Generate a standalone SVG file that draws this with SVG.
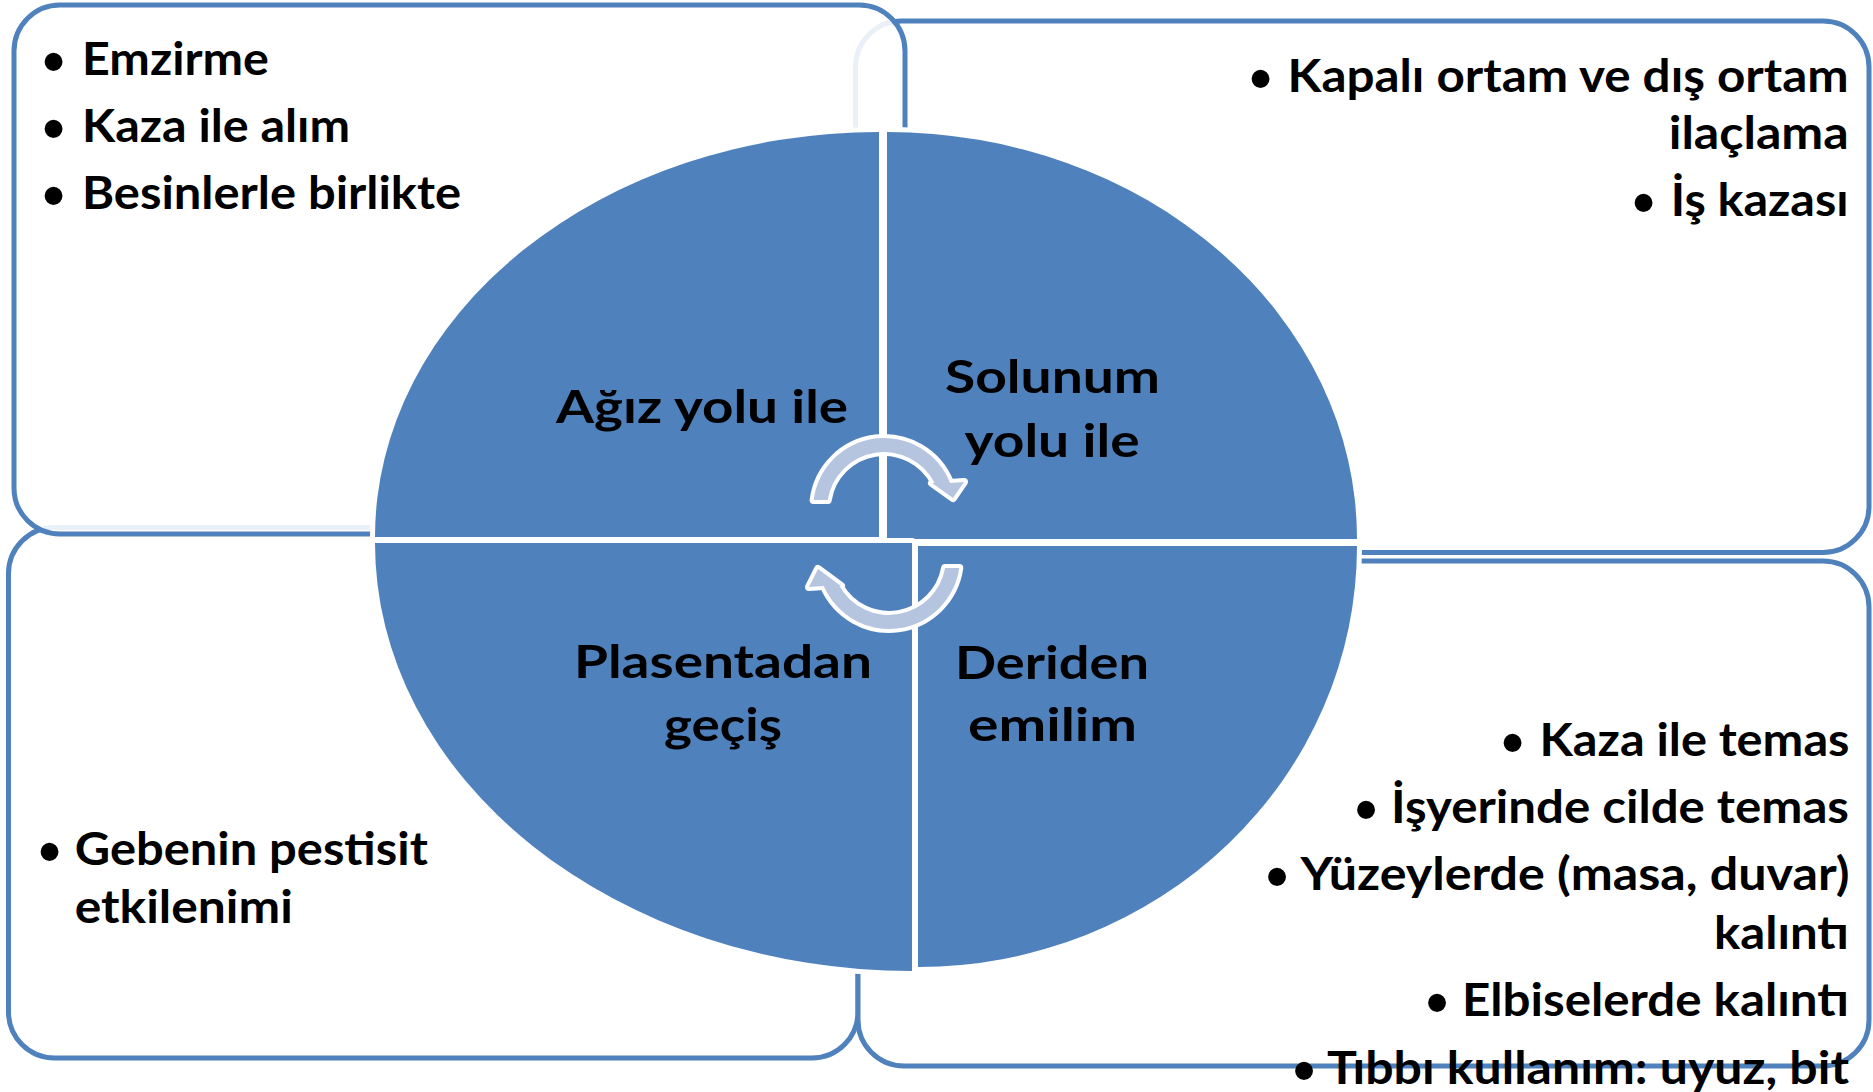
<svg xmlns="http://www.w3.org/2000/svg" width="1873" height="1092" viewBox="0 0 1873 1092">
<style>
.box{fill:#fff;stroke:#4F81BD;stroke-width:5}
.tl{fill-opacity:0.88}
.sec{fill:#4F81BD;stroke:#fff;stroke-width:10;paint-order:stroke;stroke-linejoin:round}
.arr{fill:#B5C4DF;stroke:#fff;stroke-width:8;paint-order:stroke;stroke-linejoin:round}
.t{font-family:Lato,"Open Sans",sans-serif;font-weight:700;font-size:45px;fill:#000}
.b{font-family:"Liberation Sans",sans-serif;font-size:66px;text-anchor:middle;fill:#000}
</style>
<rect width="1873" height="1092" fill="#fff"/>
<g id="box-top-right">
<rect class="box" x="855.5" y="21" width="1013.5" height="531.5" rx="46"/>
<text class="b" x="1260.5" y="100.6">•</text>
<text class="t" x="1287.6" y="92" textLength="561" lengthAdjust="spacingAndGlyphs">Kapalı ortam ve dış ortam</text>
<text class="t" x="1668.7" y="148.5" textLength="180" lengthAdjust="spacingAndGlyphs">ilaçlama</text>
<text class="b" x="1643.6" y="224.6">•</text>
<text class="t" x="1670.7" y="216" textLength="178" lengthAdjust="spacingAndGlyphs">İş kazası</text>
</g>
<g id="box-bottom-left">
<rect class="box" x="8.5" y="527.5" width="849.5" height="530.5" rx="46"/>
<text class="b" x="49.5" y="873.6">•</text>
<text class="t" x="74.8" y="865" textLength="353" lengthAdjust="spacingAndGlyphs">Gebenin pestisit</text>
<text class="t" x="74.8" y="923" textLength="218" lengthAdjust="spacingAndGlyphs">etkilenimi</text>
</g>
<g id="box-bottom-right">
<rect class="box" x="858" y="561" width="1011" height="505" rx="46"/>
<text class="b" x="1512.5" y="764.6">•</text>
<text class="t" x="1539.5" y="756" textLength="310" lengthAdjust="spacingAndGlyphs">Kaza ile temas</text>
<text class="b" x="1366" y="831.6">•</text>
<text class="t" x="1391" y="823" textLength="458" lengthAdjust="spacingAndGlyphs">İşyerinde cilde temas</text>
<text class="b" x="1277" y="898.6">•</text>
<text class="t" x="1300.5" y="890" textLength="549" lengthAdjust="spacingAndGlyphs">Yüzeylerde (masa, duvar)</text>
<text class="t" x="1714" y="949" textLength="135" lengthAdjust="spacingAndGlyphs">kalıntı</text>
<text class="b" x="1437" y="1024.6">•</text>
<text class="t" x="1462" y="1016" textLength="387" lengthAdjust="spacingAndGlyphs">Elbiselerde kalıntı</text>
<text class="b" x="1304" y="1092.6">•</text>
<text class="t" x="1327" y="1084" textLength="522" lengthAdjust="spacingAndGlyphs">Tıbbı kullanım: uyuz, bit</text>
</g>
<g id="box-top-left">
<rect class="box tl" x="14" y="5" width="891" height="529" rx="46"/>
<text class="b" x="53.5" y="83.7">•</text>
<text class="t" x="82" y="75" textLength="187" lengthAdjust="spacingAndGlyphs">Emzirme</text>
<text class="b" x="53.5" y="150.7">•</text>
<text class="t" x="82" y="142" textLength="268" lengthAdjust="spacingAndGlyphs">Kaza ile alım</text>
<text class="b" x="53.5" y="217.7">•</text>
<text class="t" x="82" y="209" textLength="379" lengthAdjust="spacingAndGlyphs">Besinlerle birlikte</text>
</g>
<g id="sector-agiz">
<path class="sec" d="M879,537 L375,537 A504,405 0 0 1 879,132 Z"/>
<text class="t" x="556" y="423" textLength="292" lengthAdjust="spacingAndGlyphs">Ağız yolu ile</text>
</g>
<g id="sector-solunum">
<path class="sec" d="M887,539 L887,132 A470,407 0 0 1 1357,539 Z"/>
<text class="t" x="945" y="393" textLength="215" lengthAdjust="spacingAndGlyphs">Solunum</text>
<text class="t" x="964.6" y="457" textLength="175" lengthAdjust="spacingAndGlyphs">yolu ile</text>
</g>
<g id="sector-plasenta">
<path class="sec" d="M912,543 L912,971 A537,428 0 0 1 375,543 Z"/>
<text class="t" x="574" y="678" textLength="298" lengthAdjust="spacingAndGlyphs">Plasentadan</text>
<text class="t" x="664" y="741" textLength="118" lengthAdjust="spacingAndGlyphs">geçiş</text>
</g>
<g id="sector-deri">
<path class="sec" d="M918,546 L1357,546 A439,421 0 0 1 918,967 Z"/>
<text class="t" x="955" y="679" textLength="194" lengthAdjust="spacingAndGlyphs">Deriden</text>
<text class="t" x="968" y="741" textLength="169" lengthAdjust="spacingAndGlyphs">emilim</text>
</g>
<g id="connectors">
<path class="arr" d="M813.6,500 A71,71 0 0 1 950.1,483 L964,482 L953,498 L932,483 L934.7,483 A57,57 0 0 0 827.7,500 Z"/>
<path class="arr" d="M959.3,568 A71,71 0 0 1 823.8,586 L809,587 L818,569 L841,586 L839.4,586 A57,57 0 0 0 945.1,568 Z"/>
</g>
</svg>
